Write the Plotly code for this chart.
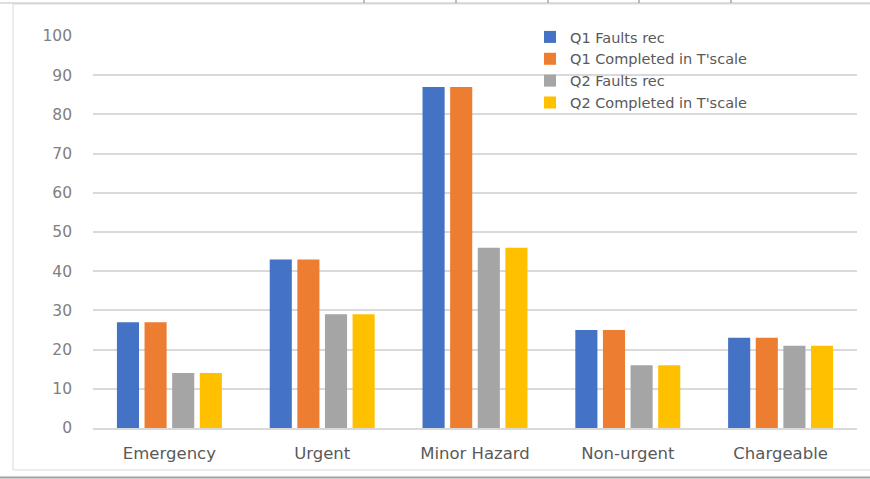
import plotly.graph_objects as go

categories = ["Emergency", "Urgent", "Minor Hazard", "Non-urgent", "Chargeable"]
series_names = ["Q1 Faults rec", "Q1 Completed in T'scale", "Q2 Faults rec", "Q2 Completed in T'scale"]
q1_faults = [27, 43, 87, 25, 23]
q1_completed = [27, 43, 87, 25, 23]
q2_faults = [14, 29, 46, 16, 21]
q2_completed = [14, 29, 46, 16, 21]
colors = ["#4472C4", "#ED7D31", "#A5A5A5", "#FFC000"]
y_ticks = list(range(0, 101, 10))

W, H = 870, 479
L, R, T, B = 93, 13, 36, 51
pw, ph = W - L - R, H - T - B

def px(x):
    return (x - L) / pw

def py(y):
    return (H - B - y) / ph

fig = go.Figure()
for name, vals, c in zip(series_names, [q1_faults, q1_completed, q2_faults, q2_completed], colors):
    fig.add_trace(go.Bar(name=name, x=categories, y=vals, marker=dict(color=c, line=dict(width=0))))

font_family = "DejaVu Sans, sans-serif"
shapes = []
shapes.append(dict(type="rect", xref="paper", yref="paper", x0=px(13), x1=px(875), y0=py(470), y1=py(4),
                   line=dict(color="#d9d9d9", width=1), fillcolor="rgba(0,0,0,0)", layer="below"))
shapes.append(dict(type="line", xref="paper", yref="paper", x0=px(0), x1=px(870), y0=py(3), y1=py(3),
                   line=dict(color="#bfbfbf", width=1)))
for tx in [364, 456, 548, 639, 731]:
    shapes.append(dict(type="line", xref="paper", yref="paper", x0=px(tx), x1=px(tx), y0=py(0), y1=py(3),
                       line=dict(color="#808080", width=1)))
shapes.append(dict(type="line", xref="paper", yref="paper", x0=px(0), x1=px(870), y0=py(477.5), y1=py(477.5),
                   line=dict(color="#a0a0a0", width=2)))

fig.update_layout(
    width=W, height=H,
    margin=dict(l=L, r=R, t=T, b=B),
    paper_bgcolor="white", plot_bgcolor="white",
    barmode="group", bargap=0.277, bargroupgap=0.2,
    font=dict(family=font_family, color="#595959", size=15),
    xaxis=dict(showgrid=False, showline=True, linecolor="#d9d9d9", linewidth=1.5, ticks="",
               tickfont=dict(size=16.5, color="#595959"), ticklabelstandoff=9),
    yaxis=dict(range=[0, 100], tickvals=y_ticks, showgrid=True, gridcolor="#d9d9d9", gridwidth=1.5,
               zeroline=False, showline=False, ticks="", tickfont=dict(size=15.5, color="#808080"),
               ticklabelstandoff=20),
    legend=dict(x=px(530), y=py(21), xanchor="left", yanchor="top", bgcolor="rgba(0,0,0,0)",
                font=dict(size=14.5, color="#595959"), itemwidth=30, tracegroupgap=0),
    shapes=shapes,
    showlegend=True,
)
fig.write_html("out.html")
